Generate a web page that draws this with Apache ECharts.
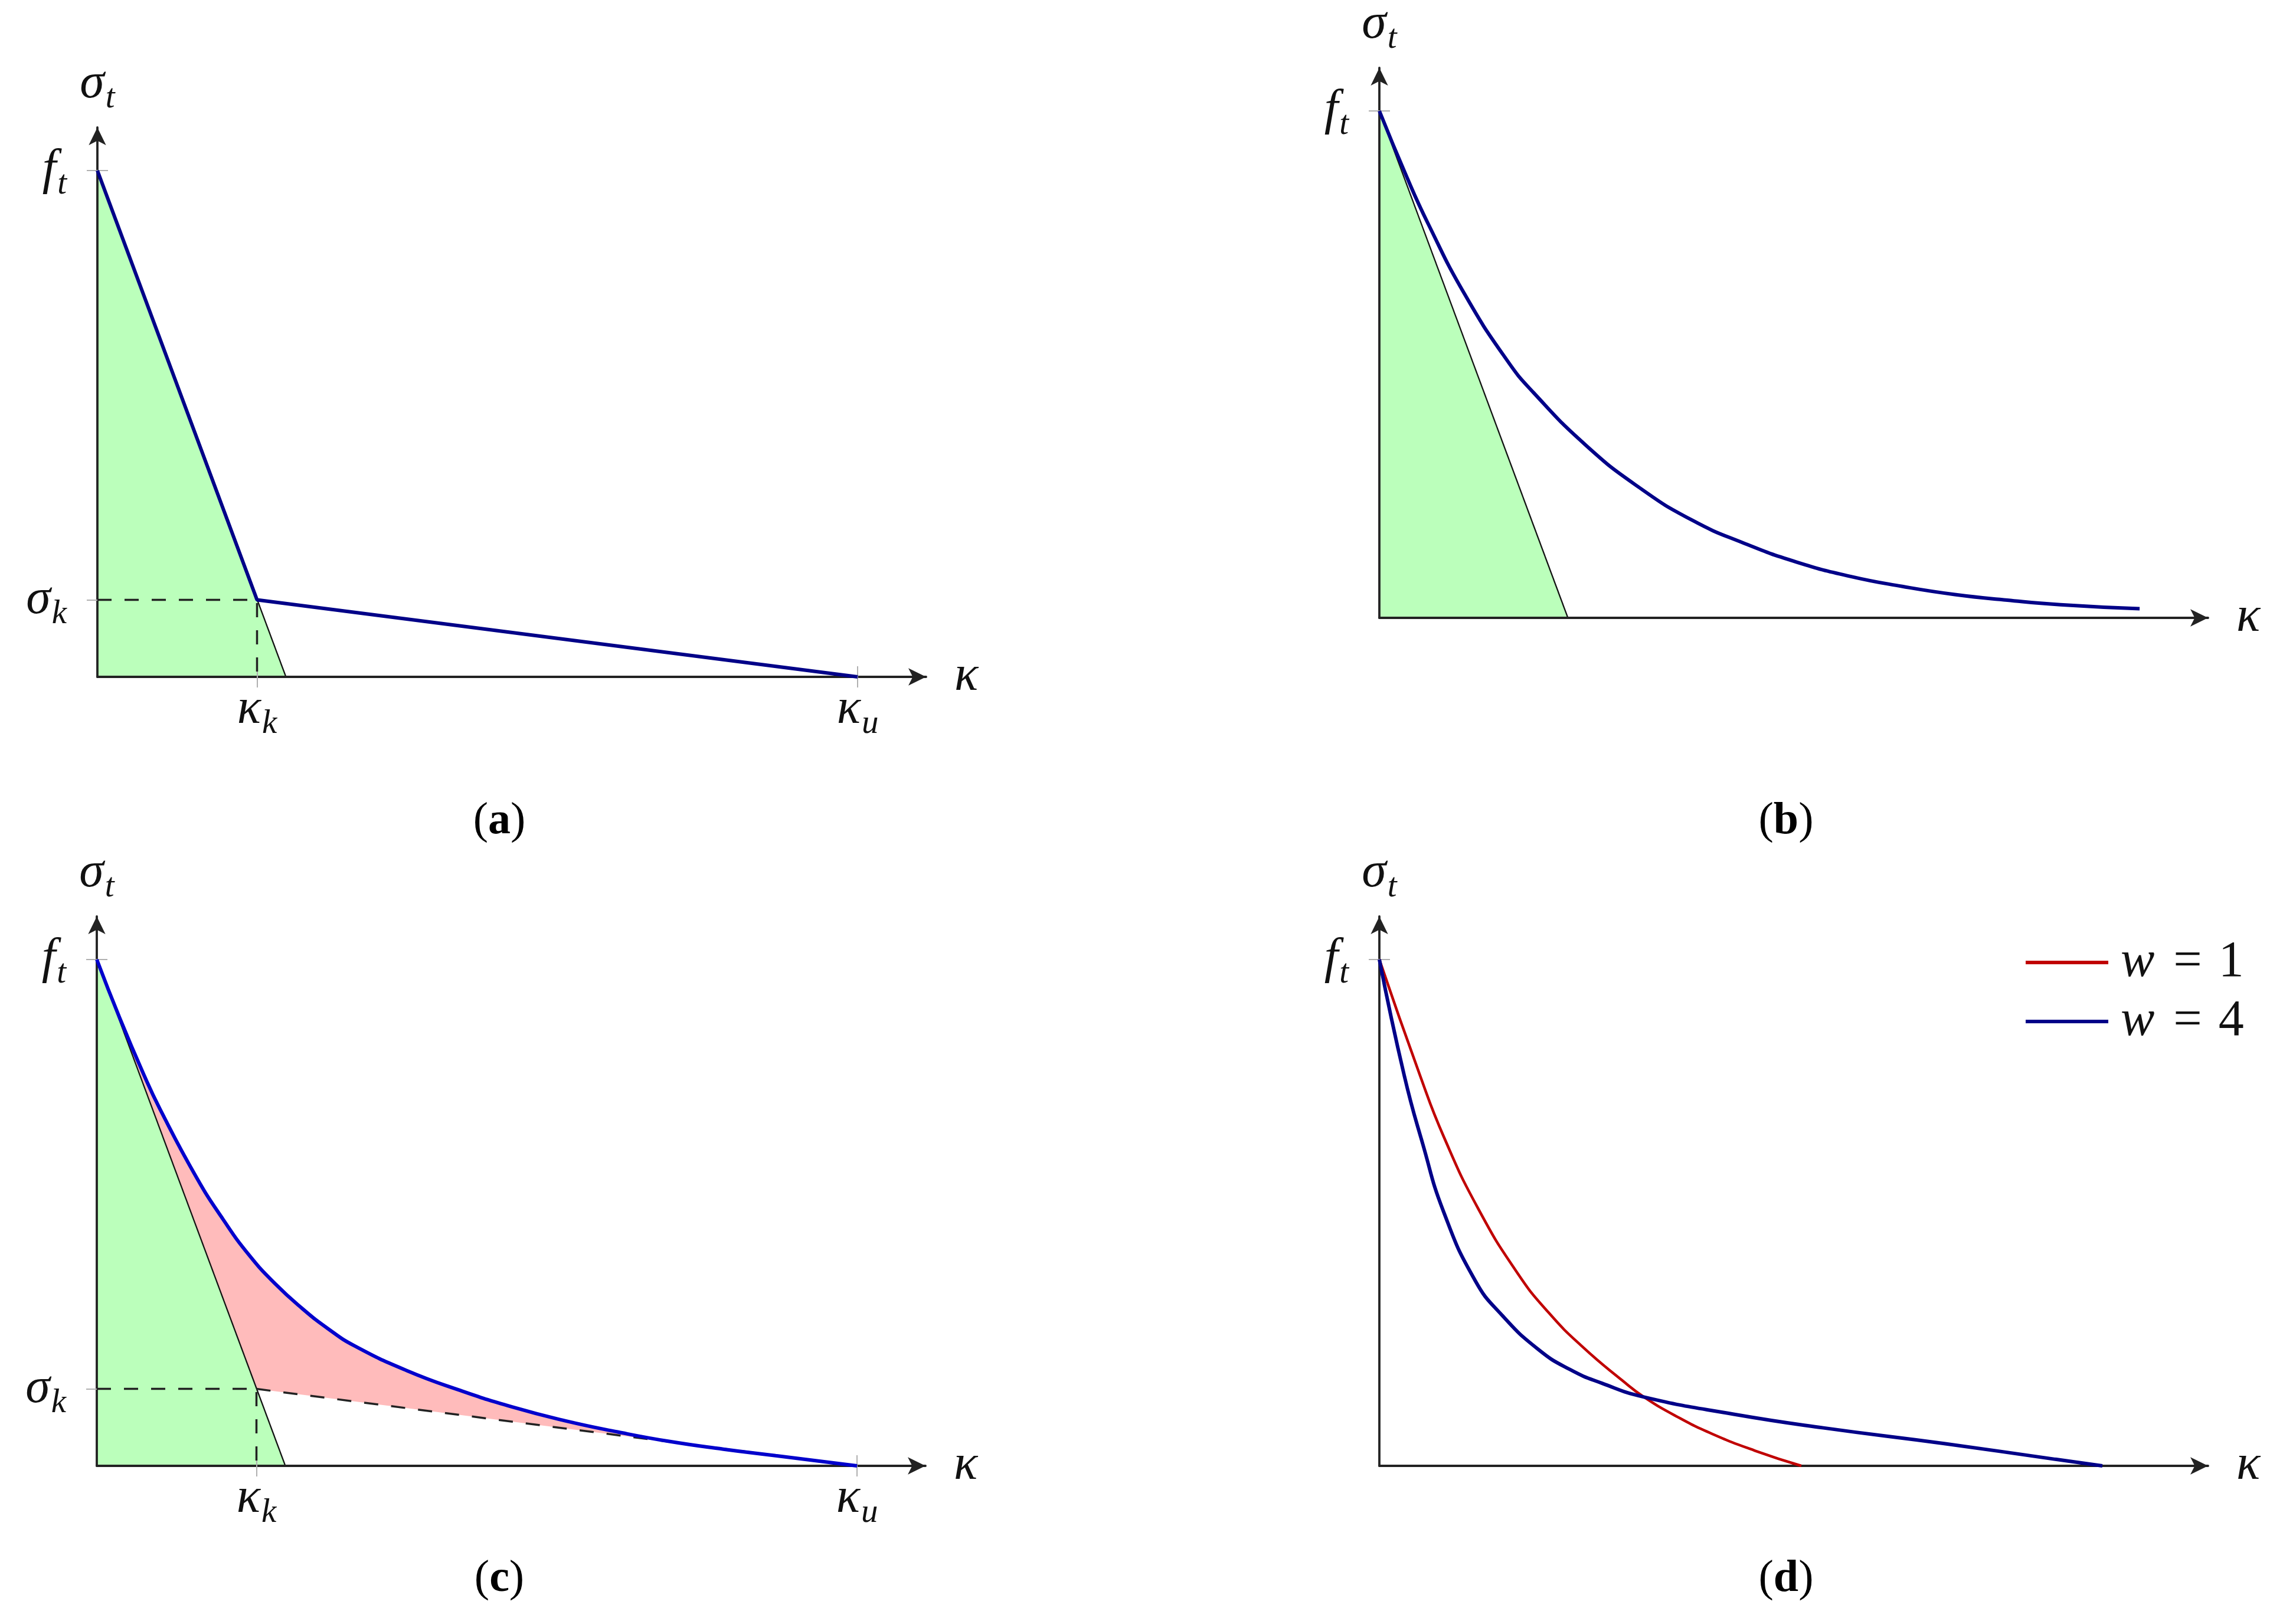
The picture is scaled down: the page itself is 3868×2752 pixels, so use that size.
<!DOCTYPE html>
<html>
<head>
<meta charset="utf-8">
<title>Tension softening models</title>
<script src="https://cdn.jsdelivr.net/npm/echarts@6/dist/echarts.min.js"></script>
<style>
  html, body { margin: 0; padding: 0; background: #fff; }
  #chart { width: 3868px; height: 2752px; }
</style>
</head>
<body>
<div id="chart"></div>
<script>
// values in normalised units: f_t = 1, kappa_u = 1
const sigmaK = 0.152
const kappaK = 0.210
const kappaU = 1

// linear softening (green triangle)
const linearSoft = [[0, 1], [0.248, 0]]
// (a) bilinear law
const bilinear = [[0, 1], [0.210, 0.152], [1, 0]]
const kneeGuide = [[0, 0.152], [0.210, 0.152], [0.210, 0]]
const kneeToEnd = [[0.210, 0.152], [1, 0]]
// (b) exponential law
const curveB = [[0, 1], [0.036, 0.870], [0.064, 0.778], [0.112, 0.639], [0.168, 0.508], [0.203, 0.444],
  [0.272, 0.340], [0.341, 0.258], [0.411, 0.193], [0.480, 0.147], [0.549, 0.110], [0.619, 0.082],
  [0.688, 0.062], [0.757, 0.046], [0.826, 0.035], [0.896, 0.026], [1.0, 0.018]]
// (c) curve ending at kappa_u
const curveC = [[0, 1], [0.030, 0.885], [0.062, 0.772], [0.083, 0.705], [0.131, 0.570], [0.166, 0.487],
  [0.201, 0.415], [0.235, 0.359], [0.270, 0.311], [0.304, 0.271], [0.339, 0.237], [0.408, 0.188],
  [0.478, 0.149], [0.547, 0.116], [0.616, 0.089], [0.685, 0.067], [0.754, 0.048], [0.824, 0.033],
  [0.893, 0.020], [1.0, 0]]
// (d) two shape factors
const curveW1 = [[0, 1], [0.0535, 0.771], [0.0847, 0.650], [0.130, 0.508], [0.182, 0.380], [0.223, 0.302],
  [0.268, 0.234], [0.320, 0.168], [0.348, 0.136], [0.393, 0.096], [0.438, 0.063], [0.494, 0.030], [0.555, 0]]
const curveW4 = [[0, 1], [0.0327, 0.771], [0.057, 0.636], [0.0847, 0.501], [0.126, 0.366], [0.161, 0.298],
  [0.209, 0.230], [0.251, 0.190], [0.293, 0.163], [0.348, 0.136], [0.466, 0.102], [0.584, 0.075],
  [0.743, 0.044], [0.889, 0.013], [0.951, 0]]
const legendNames = ['w = 1', 'w = 4']
const legendDigits = ['1', '4']

// tick values and their labels
const yTickVals = [[1, sigmaK], [1], [1, sigmaK], [1]]
const yTickText = [['{m|f}{s|t}', '{m|σ}{s|k}'], ['{m|f}{s|t}'], ['{m|f}{s|t}', '{m|σ}{s|k}'], ['{m|f}{s|t}']]
const xTickVals = [[kappaK, kappaU], [], [kappaK, kappaU], []]
const xTickText = [['{m|κ}{s|k}', '{m|κ}{s|u}'], [], ['{m|κ}{s|k}', '{m|κ}{s|u}'], []]
const captionLetters = ['a', 'b', 'c', 'd']

const XMAX = 1.09
const YMAX = 1.085
const grids = [
  { left: 165, top: 216, width: 1404, height: 931 },
  { left: 2337, top: 115, width: 1404, height: 932 },
  { left: 164, top: 1553, width: 1404, height: 931 },
  { left: 2337, top: 1553, width: 1404, height: 931 }
]
const captionPos = [[846, 1392], [3026, 1392], [846, 2676], [3026, 2676]]

const FONT = 'Liberation Serif'
const RICH = {
  m: { fontFamily: FONT, fontStyle: 'italic', fontSize: 84, lineHeight: 90, color: '#111' },
  s: { fontFamily: FONT, fontStyle: 'italic', fontSize: 57, lineHeight: 56, padding: [48, 0, 0, 2], color: '#111' }
}
const axisLineStyle = { color: '#222', width: 3.8 }
const tickStyle = { color: '#b0b0b0', width: 2 }
const navy = '#000088'

const xAxes = []
const yAxes = []
grids.forEach((g, i) => {
  const xt = xTickVals[i]
  const yt = yTickVals[i]
  xAxes.push({
    type: 'value', gridIndex: i, min: 0, max: XMAX, position: 'bottom', z: 3,
    axisLine: { show: true, onZero: false, symbol: ['none', 'arrow'], symbolSize: [22, 30], lineStyle: axisLineStyle },
    axisTick: { show: xt.length > 0, customValues: xt, length: 18, lineStyle: tickStyle },
    axisLabel: { show: xt.length > 0, customValues: xt, margin: 11, rich: RICH,
      formatter: v => xTickText[i][xt.indexOf(v)] },
    splitLine: { show: false },
    name: '{m|κ}', nameLocation: 'end', nameGap: 48, nameMoveOverlap: false,
    nameTextStyle: { rich: RICH, verticalAlign: 'middle' }
  })
  yAxes.push({
    type: 'value', gridIndex: i, min: 0, max: YMAX, position: 'left', z: 3,
    axisLine: { show: true, onZero: false, symbol: ['none', 'arrow'], symbolSize: [22, 30], lineStyle: axisLineStyle },
    axisTick: { show: true, customValues: yt, length: 18, lineStyle: tickStyle },
    axisLabel: { show: true, customValues: yt, margin: 52, rich: RICH,
      formatter: v => yTickText[i][yt.indexOf(v)] },
    splitLine: { show: false },
    name: '{m|σ}{s|t}', nameLocation: 'end', nameGap: 28, nameMoveOverlap: false,
    nameTextStyle: { rich: RICH }
  })
})
// second set of axes only to draw the inner half of each tick
grids.forEach((g, i) => {
  xAxes.push({
    type: 'value', gridIndex: i, min: 0, max: XMAX, position: 'bottom', z: 3,
    axisLine: { show: false, onZero: false },
    axisTick: { show: xTickVals[i].length > 0, inside: true, customValues: xTickVals[i], length: 18, lineStyle: tickStyle },
    axisLabel: { show: false }, splitLine: { show: false }
  })
  yAxes.push({
    type: 'value', gridIndex: i, min: 0, max: YMAX, position: 'left', z: 3,
    axisLine: { show: false, onZero: false },
    axisTick: { show: true, inside: true, customValues: yTickVals[i], length: 18, lineStyle: tickStyle },
    axisLabel: { show: false }, splitLine: { show: false }
  })
})

function line(i, data, color, width, extra) {
  return Object.assign({
    type: 'line', xAxisIndex: i, yAxisIndex: i, data: data, color: color,
    symbol: 'none', showSymbol: false, silent: true, z: 4,
    lineStyle: { color: color, width: width }
  }, extra || {})
}
function greenArea(i) {
  return line(i, linearSoft, '#111', 2.2, { z: 1, areaStyle: { color: '#bbffbb', opacity: 1, origin: 'start' } })
}
function dashed(i, data) {
  return line(i, data, '#222', 3.5, { lineStyle: { color: '#222', width: 3.5, type: [24, 22] } })
}
const smoothCurve = { smooth: 0.5 }

const pinkRegion = curveC.concat([[kappaK, sigmaK]])

const series = [
  // (a)
  greenArea(0),
  dashed(0, kneeGuide),
  line(0, bilinear, navy, 6, { z: 5 }),
  // (b)
  greenArea(1),
  line(1, curveB, navy, 6, Object.assign({ z: 5 }, smoothCurve)),
  // (c)
  greenArea(2),
  {
    type: 'custom', xAxisIndex: 2, yAxisIndex: 2, z: 1, silent: true, data: [[0, 0]],
    renderItem: (params, api) => ({
      type: 'polygon',
      shape: { points: pinkRegion.map(p => api.coord(p)) },
      style: { fill: '#ffbbbb' }
    })
  },
  dashed(2, kneeGuide),
  dashed(2, kneeToEnd),
  line(2, curveC, '#0000cc', 6, Object.assign({ z: 5 }, smoothCurve)),
  // (d)
  line(3, curveW1, '#c00000', 4.5, Object.assign({ name: legendNames[0] }, smoothCurve)),
  line(3, curveW4, navy, 6, Object.assign({ name: legendNames[1], z: 5 }, smoothCurve))
]

const captions = captionLetters.map((c, i) => ({
  type: 'text', x: captionPos[i][0], y: captionPos[i][1],
  style: {
    text: '{p|(}{b|' + c + '}{p|)}', align: 'center', verticalAlign: 'middle',
    rich: {
      p: { fontFamily: FONT, fontSize: 76, color: '#111' },
      b: { fontFamily: FONT, fontSize: 76, fontWeight: 'bold', color: '#111' }
    }
  }
}))

const chart = echarts.init(document.getElementById('chart'))
chart.setOption({
  animation: false,
  backgroundColor: '#fff',
  grid: grids.map(g => Object.assign({ outerBoundsMode: 'none' }, g)),
  xAxis: xAxes,
  yAxis: yAxes,
  legend: {
    data: legendNames, orient: 'vertical', left: 3432, top: 1588, padding: 0, itemGap: 14,
    icon: 'rect', itemWidth: 140, itemHeight: 6, selectedMode: false,
    formatter: name => '{i|w}{e|=}{d|' + legendDigits[legendNames.indexOf(name)] + '}',
    textStyle: {
      padding: [0, 0, 0, 16],
      rich: {
        i: { fontFamily: FONT, fontStyle: 'italic', fontSize: 86, lineHeight: 86, color: '#111' },
        e: { fontFamily: FONT, fontSize: 86, lineHeight: 86, padding: [0, 28, 0, 32], color: '#111' },
        d: { fontFamily: FONT, fontSize: 86, lineHeight: 86, color: '#111' }
      }
    }
  },
  graphic: captions,
  series: series
})
</script>
</body>
</html>
